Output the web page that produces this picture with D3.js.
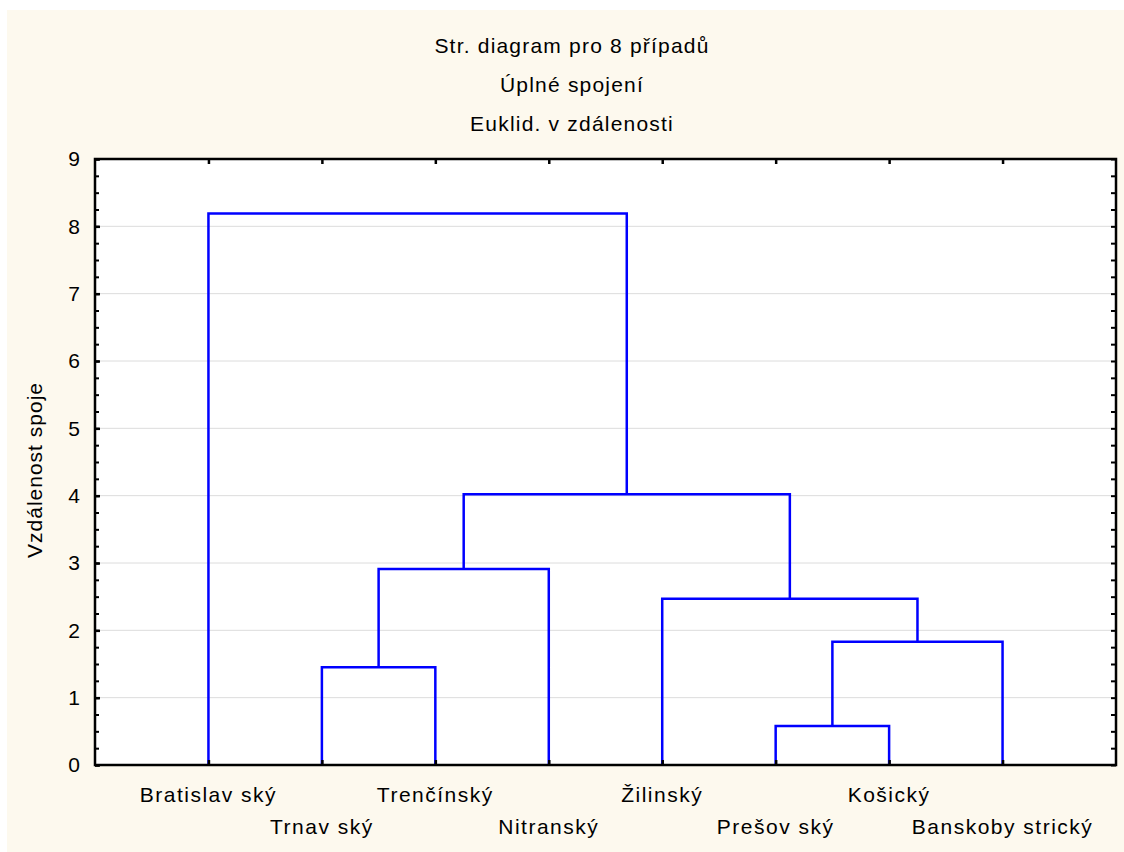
<!DOCTYPE html>
<html>
<head>
<meta charset="utf-8">
<script src="https://cdn.jsdelivr.net/npm/d3@7"></script>
<style>
  body { margin: 0; background: #ffffff; }
  svg text { font-family: "Liberation Sans", Arial, sans-serif; fill: #000; }
</style>
</head>
<body>
<svg id="chart" width="1124" height="852"></svg>
<script>
// leaves, left to right
var leaves = ["Bratislav ský", "Trnav ský", "Trenčínský", "Nitranský",
              "Žilinský", "Prešov ský", "Košický", "Banskoby strický"];
// merges: node ids 0-7 are leaves, 8+ are merges in this order
var mergeLeft   = [5, 1, 8, 9, 4, 11, 0];
var mergeRight  = [6, 2, 7, 3, 10, 12, 13];
var mergeHeight = [0.58, 1.45, 1.83, 2.91, 2.47, 4.02, 8.19];
var titles = ["Str. diagram pro 8 případů", "Úplné spojení", "Euklid. v zdálenosti"];
var yTicks = [0, 1, 2, 3, 4, 5, 6, 7, 8, 9];

var svg = d3.select("#chart");
var margin = {left: 95, right: 8, top: 159, bottom: 87},
    width = 1124, height = 852;

svg.append("rect")
    .attr("x", 7).attr("y", 10)
    .attr("width", width - 7).attr("height", height - 10)
    .attr("fill", "#fdf9ee");

var x = d3.scaleLinear().domain([0, 9]).range([margin.left, width - margin.right]);
var y = d3.scaleLinear().domain([0, 9]).range([height - margin.bottom, margin.top]);

// plot background
svg.append("rect")
    .attr("x", x(0)).attr("y", y(9))
    .attr("width", x(9) - x(0)).attr("height", y(0) - y(9))
    .attr("fill", "#ffffff");

// grid
svg.append("g").selectAll("line")
    .data(yTicks.slice(1, -1))
    .enter().append("line")
    .attr("x1", x(0)).attr("x2", x(9))
    .attr("y1", function(d) { return y(d); })
    .attr("y2", function(d) { return y(d); })
    .attr("stroke", "#dcdcdc")
    .attr("stroke-width", 1);

// node positions and heights
var nodeX = leaves.map(function(d, i) { return x(i + 1); });
var nodeH = leaves.map(function() { return 0; });
mergeLeft.forEach(function(l, i) {
    var r = mergeRight[i];
    nodeX.push((nodeX[l] + nodeX[r]) / 2);
    nodeH.push(mergeHeight[i]);
});

svg.append("g").selectAll("path")
    .data(mergeLeft.map(function(l, i) { return [l, mergeRight[i], mergeHeight[i]]; }))
    .enter().append("path")
    .attr("d", function(d) {
        return "M" + nodeX[d[0]] + "," + y(nodeH[d[0]]) +
               "V" + y(d[2]) + "H" + nodeX[d[1]] + "V" + y(nodeH[d[1]]);
    })
    .attr("fill", "none")
    .attr("stroke", "#0000ff")
    .attr("stroke-width", 2.5);

// frame
svg.append("rect")
    .attr("x", x(0)).attr("y", y(9))
    .attr("width", x(9) - x(0)).attr("height", y(0) - y(9))
    .attr("fill", "none")
    .attr("stroke", "#000")
    .attr("stroke-width", 2.5);

// y axes with inward ticks
var minor = d3.range(0, 9.01, 0.25);
var yAxis = d3.axisLeft(y).tickValues(yTicks).tickSize(-5).tickPadding(15).tickFormat(d3.format("d"));
var gy = svg.append("g").attr("transform", "translate(" + x(0) + ",0)").call(yAxis);
gy.select(".domain").remove();
gy.selectAll("line").attr("stroke", "#000").attr("stroke-width", 2.5);
gy.selectAll("text").style("font-size", "21px").attr("fill", "#000");

var gyMinor = svg.append("g").attr("transform", "translate(" + x(0) + ",0)")
    .call(d3.axisLeft(y).tickValues(minor).tickSize(-4).tickFormat(""));
gyMinor.select(".domain").remove();
gyMinor.selectAll("line").attr("stroke", "#000").attr("stroke-width", 2);

var gyR = svg.append("g").attr("transform", "translate(" + x(9) + ",0)")
    .call(d3.axisRight(y).tickValues(minor).tickSize(-5).tickFormat(""));
gyR.select(".domain").remove();
gyR.selectAll("line").attr("stroke", "#000").attr("stroke-width", 2);

// x ticks at leaves
var leafPos = d3.range(1, 9);
var gxB = svg.append("g").attr("transform", "translate(0," + y(0) + ")")
    .call(d3.axisBottom(x).tickValues(leafPos).tickSize(-5).tickFormat(""));
gxB.select(".domain").remove();
gxB.selectAll("line").attr("stroke", "#000").attr("stroke-width", 2.5);
var gxT = svg.append("g").attr("transform", "translate(0," + y(9) + ")")
    .call(d3.axisTop(x).tickValues(leafPos).tickSize(-5).tickFormat(""));
gxT.select(".domain").remove();
gxT.selectAll("line").attr("stroke", "#000").attr("stroke-width", 2.5);

// leaf labels, staggered
svg.append("g").selectAll("text")
    .data(leaves)
    .enter().append("text")
    .attr("x", function(d, i) { return x(i + 1); })
    .attr("y", function(d, i) { return i % 2 === 0 ? 802 : 834; })
    .attr("text-anchor", "middle")
    .style("font-size", "21px")
    .style("letter-spacing", "1.5px")
    .text(function(d) { return d; });

// titles
svg.append("g").selectAll("text")
    .data(titles)
    .enter().append("text")
    .attr("x", 572)
    .attr("y", function(d, i) { return 53 + i * 39; })
    .attr("text-anchor", "middle")
    .style("font-size", "21px")
    .style("letter-spacing", "1.2px")
    .text(function(d) { return d; });

// y axis title
svg.append("text")
    .attr("transform", "translate(42,470) rotate(-90)")
    .attr("text-anchor", "middle")
    .style("font-size", "21px")
    .style("letter-spacing", "1px")
    .text("Vzdálenost spoje");
</script>
</body>
</html>
